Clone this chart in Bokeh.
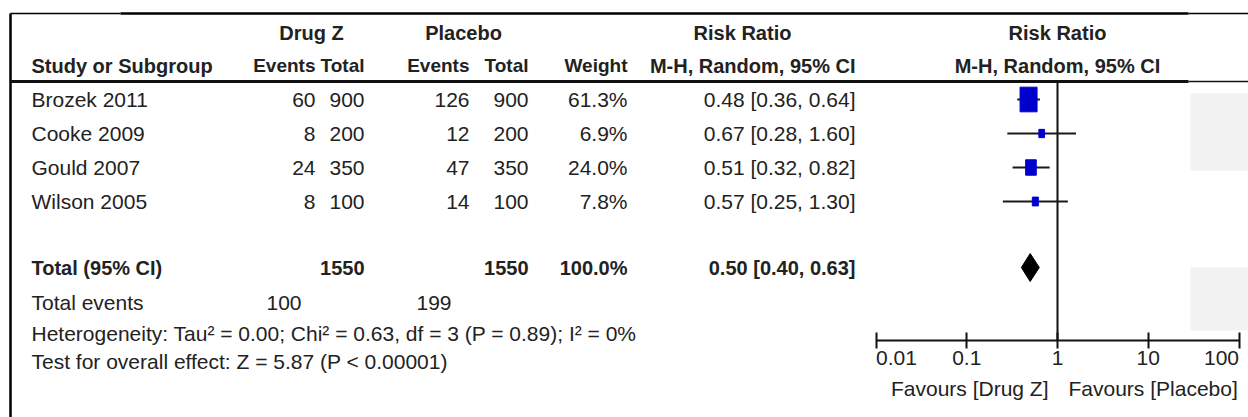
import math
from bokeh.plotting import figure
from bokeh.models import Range1d, FixedTicker, CustomJSTickFormatter, LogAxis, LogScale
from bokeh.core.properties import value
from bokeh.embed import file_html
from bokeh.resources import INLINE

# ---------------- data ----------------
studies = ["Brozek 2011", "Cooke 2009", "Gould 2007", "Wilson 2005"]
drug_events = [60, 8, 24, 8]
drug_total = [900, 200, 350, 100]
plac_events = [126, 12, 47, 14]
plac_total = [900, 200, 350, 100]
weights = [61.3, 6.9, 24.0, 7.8]
rr = [0.48, 0.67, 0.51, 0.57]
ci_low = [0.36, 0.28, 0.32, 0.25]
ci_high = [0.64, 1.60, 0.82, 1.30]

total_label = "Total (95% CI)"
total_drug = 1550
total_plac = 1550
total_weight = 100.0
total_rr = 0.50
total_low = 0.40
total_high = 0.63
events_label = "Total events"
events_drug = 100
events_plac = 199
heterogeneity = "Heterogeneity: Tau\u00b2 = 0.00; Chi\u00b2 = 0.63, df = 3 (P = 0.89); I\u00b2 = 0%"
overall = "Test for overall effect: Z = 5.87 (P < 0.00001)"
null_effect = 1
tick_values = [0.01, 0.1, 1, 10, 100]
tick_labels = ["0.01", "0.1", "1", "10", "100"]
favour_left = "Favours [Drug Z]"
favour_right = "Favours [Placebo]"
group_left = "Drug Z"
group_right = "Placebo"
col_heads = ["Study or Subgroup", "Events", "Total", "Events", "Total", "Weight", "M-H, Random, 95% CI"]
effect_head = "Risk Ratio"

# ---------------- layout (page pixel units) ----------------
W, H = 1248, 417
FONT = "Liberation Sans"
TXT = "#222222"
DATA_SIZE, HEAD_SIZE, COL_SIZE = "21px", "20px", "19px"
ROW0, STEP = 99, 34
row_y = [ROW0 + i * STEP for i in range(len(studies))]
TOTAL_Y, EVENTS_Y, HET_Y, TEST_Y = 267, 302, 333, 361
HEAD1_Y, HEAD2_Y, RULE_Y, TOP_Y = 32, 65, 81, 13
BORDER_X = 10
AXIS_Y, TICK_LEN, FAV_Y = 340, 8, 388
X_ONE, DECADE = 1057, 90.75
NAME_L, EV1_R, TOT1_R, EV2_R, TOT2_R, WT_R, RR_R = 31, 315, 364, 469, 528, 627, 855
DRUG_C, PLAC_C, RRH_C = 311, 463, 742


def px2rr(px):
    return 10 ** ((px - X_ONE) / DECADE)


def txt(p, xs, ys, texts, align="left", bold=False, size=DATA_SIZE, baseline="middle", **kw):
    p.text(x=xs, y=ys, text=texts, text_align=align, text_baseline=baseline,
           text_font=value(FONT), text_font_size=size,
           text_font_style="bold" if bold else "normal", text_color=TXT, **kw)


p = figure(width=W, height=H, x_range=Range1d(0, W), y_range=Range1d(H, 0),
           extra_x_ranges={"rr": Range1d(px2rr(0), px2rr(W))},
           extra_x_scales={"rr": LogScale()},
           x_axis_location=None, y_axis_location=None, output_backend="svg",
           toolbar_location=None, min_border=0)
p.grid.visible = False
p.outline_line_color = None
p.background_fill_color = "white"

# faint scan shading on the right
p.quad(left=[1190, 1190], right=[W, W], top=[93, 267], bottom=[170, 330],
       fill_color="#f2f2f2", line_color=None)

# frame lines
p.segment(x0=[BORDER_X, 120, 1188], y0=[TOP_Y] * 3, x1=[120, 1188, W], y1=[TOP_Y] * 3,
          line_color="black", line_width=[1.5, 2.5, 1.5])
p.segment(x0=[BORDER_X], y0=[TOP_Y], x1=[BORDER_X], y1=[H], line_color="black", line_width=2.5)
p.segment(x0=[BORDER_X, 1188], y0=[RULE_Y] * 2, x1=[1188, W], y1=[RULE_Y] * 2,
          line_color="#111111", line_width=[3, 1.5])

# headers (table)
txt(p, [DRUG_C, PLAC_C, RRH_C], [HEAD1_Y] * 3, [group_left, group_right, effect_head],
    align="center", bold=True, size=HEAD_SIZE)
txt(p, [NAME_L], [HEAD2_Y], [col_heads[0]], bold=True, size=HEAD_SIZE)
txt(p, [EV1_R, TOT1_R, EV2_R, TOT2_R, WT_R], [HEAD2_Y] * 5, col_heads[1:6],
    align="right", bold=True, size=COL_SIZE)
txt(p, [RR_R], [HEAD2_Y], [col_heads[6]], align="right", bold=True, size=HEAD_SIZE)

# study rows
n = len(studies)
txt(p, [NAME_L] * n, row_y, studies)
txt(p, [EV1_R] * n, row_y, [str(v) for v in drug_events], align="right")
txt(p, [TOT1_R] * n, row_y, [str(v) for v in drug_total], align="right")
txt(p, [EV2_R] * n, row_y, [str(v) for v in plac_events], align="right")
txt(p, [TOT2_R] * n, row_y, [str(v) for v in plac_total], align="right")
txt(p, [WT_R] * n, row_y, [f"{w:.1f}%" for w in weights], align="right")
txt(p, [RR_R] * n, row_y, [f"{a:.2f} [{b:.2f}, {c:.2f}]" for a, b, c in zip(rr, ci_low, ci_high)],
    align="right")

# total row
txt(p, [NAME_L], [TOTAL_Y], [total_label], bold=True, size=HEAD_SIZE)
txt(p, [TOT1_R, TOT2_R, WT_R, RR_R], [TOTAL_Y] * 4,
    [str(total_drug), str(total_plac), f"{total_weight:.1f}%",
     f"{total_rr:.2f} [{total_low:.2f}, {total_high:.2f}]"], align="right", bold=True, size=HEAD_SIZE)

# footer
txt(p, [NAME_L], [EVENTS_Y], [events_label])
txt(p, [EV1_R - 14, EV2_R - 18], [EVENTS_Y] * 2, [str(events_drug), str(events_plac)], align="right")
txt(p, [NAME_L], [HET_Y], [heterogeneity])
txt(p, [NAME_L], [TEST_Y], [overall])

# ---------------- forest ----------------
txt(p, [null_effect, null_effect], [HEAD1_Y, HEAD2_Y], [effect_head, col_heads[-1]],
    align="center", bold=True, size=HEAD_SIZE, x_range_name="rr")

p.segment(x0=[null_effect], y0=[RULE_Y], x1=[null_effect], y1=[AXIS_Y],
          line_color="#111111", line_width=2, x_range_name="rr")

p.segment(x0=ci_low, y0=row_y, x1=ci_high, y1=row_y, line_color="#1a1a1a", line_width=2,
          x_range_name="rr")
sizes = [2.17 * math.sqrt(w) for w in weights]
p.rect(x=rr, y=row_y, width=sizes, height=[s * 1.45 for s in sizes],
       width_units="screen", height_units="screen", fill_color="#0000cc", line_color="#0000cc",
       x_range_name="rr")

p.patch(x=[total_low, total_rr, total_high, total_rr],
        y=[TOTAL_Y, TOTAL_Y - 14, TOTAL_Y, TOTAL_Y + 14], fill_color="black", line_color="black",
        x_range_name="rr")

# axis drawn inside the frame at a fixed location
ax = LogAxis(x_range_name="rr", fixed_location=AXIS_Y)
ax.ticker = FixedTicker(ticks=tick_values, minor_ticks=[])
inner = {t: l for t, l in zip(tick_values[1:-1], tick_labels[1:-1])}
ax.formatter = CustomJSTickFormatter(args=dict(v=list(inner.keys()), l=list(inner.values())),
                                     code="const i = v.indexOf(tick); return i >= 0 ? l[i] : '';")
ax.bounds = (tick_values[0], tick_values[-1])
ax.axis_line_color = "#111111"
ax.axis_line_width = 2
ax.major_tick_line_color = "#111111"
ax.major_tick_line_width = 2
ax.major_tick_in = TICK_LEN
ax.major_tick_out = TICK_LEN
ax.minor_tick_in = 0
ax.minor_tick_out = 0
ax.major_label_text_font = FONT
ax.major_label_text_font_size = DATA_SIZE
ax.major_label_text_color = TXT
ax.major_label_standoff = 2
p.add_layout(ax, "below")

# end tick labels kept inside the page (left / right aligned on their ticks)
txt(p, [tick_values[0], tick_values[-1]], [AXIS_Y + TICK_LEN + 2] * 2, [tick_labels[0], tick_labels[-1]],
    align=["left", "right"], baseline="top", x_range_name="rr")

# favour labels
txt(p, [null_effect], [FAV_Y], [favour_left], align="right", x_offset=-9, x_range_name="rr")
txt(p, [null_effect], [FAV_Y], [favour_right], align="left", x_offset=11, x_range_name="rr")

open("out.html", "w").write(file_html(p, INLINE))
